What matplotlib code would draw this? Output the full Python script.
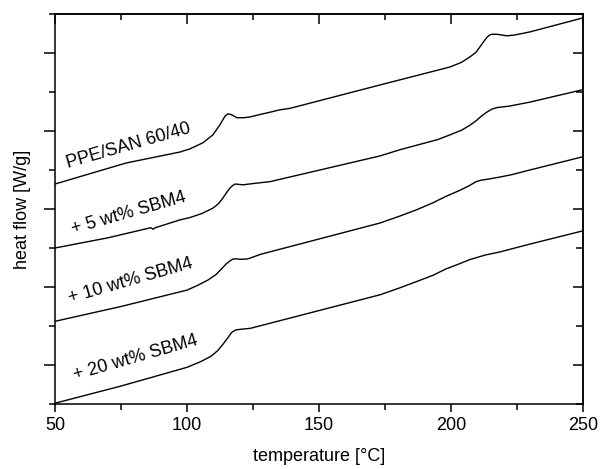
import numpy as np
import matplotlib.pyplot as plt
from matplotlib.ticker import MultipleLocator

plt.rcParams['font.family'] = ['Liberation Sans', 'DejaVu Sans']

# DSC-Kurven (Temperatur in °C, Wärmefluss in willkürlichen Einheiten)
t_ppe_san = [50, 77, 97.3, 101.1, 106.1, 109.8, 112.5, 114.4, 115.5, 116.8, 118.9, 121.5, 123.9, 127.5, 131.4, 135, 139,
             173.1, 199.6, 204, 207.2, 209.5, 211, 212.5, 213.6, 214.6, 215.5, 217.4, 219.3, 221.2, 224, 229.9, 250]
q_ppe_san = [2.82, 3.09, 3.23, 3.27, 3.35, 3.45, 3.58, 3.69, 3.72, 3.71, 3.67, 3.67, 3.68, 3.71, 3.74, 3.77, 3.79,
             4.09, 4.32, 4.38, 4.45, 4.51, 4.58, 4.65, 4.70, 4.73, 4.74, 4.74, 4.73, 4.72, 4.73, 4.77, 4.95]

t_sbm5 = [50, 70, 86.3, 87.1, 88.0, 97.3, 101.1, 105.5, 109.8, 112, 113.6, 115, 116.3, 117.3, 118.2, 121.2, 126, 131.4,
          173.1, 180.7, 195, 199.6, 204, 207, 209.5, 211.5, 213.5, 215.5, 217.4, 220, 222.3, 229.9, 250]
q_sbm5 = [2.00, 2.13, 2.26, 2.24, 2.26, 2.36, 2.39, 2.44, 2.51, 2.57, 2.64, 2.71, 2.77, 2.80, 2.82, 2.81, 2.83, 2.85,
          3.18, 3.26, 3.39, 3.45, 3.51, 3.57, 3.63, 3.69, 3.74, 3.78, 3.80, 3.81, 3.82, 3.87, 4.03]

t_sbm10 = [50, 75, 100, 104, 108, 111, 113, 115, 116.5, 117.6, 118.8, 120.5, 123, 128, 173.1, 180.7, 187, 193.2,
           198, 203.4, 207, 209.5, 211.5, 213.6, 218.6, 223, 229.9, 250]
q_sbm10 = [1.06, 1.25, 1.46, 1.52, 1.59, 1.66, 1.73, 1.80, 1.84, 1.86, 1.86, 1.855, 1.86, 1.92, 2.32, 2.41, 2.49, 2.58,
           2.66, 2.74, 2.80, 2.85, 2.87, 2.88, 2.91, 2.94, 3.00, 3.17]

t_sbm20 = [50, 75, 100, 105, 109, 111.5, 113.5, 115.5, 117, 118.5, 121, 124, 173.1, 180.7, 187, 193.2, 198,
           203.4, 207, 210, 213, 218.6, 229.9, 250]
q_sbm20 = [0.01, 0.23, 0.47, 0.54, 0.61, 0.68, 0.76, 0.85, 0.92, 0.95, 0.96, 0.97, 1.40, 1.49, 1.57, 1.65, 1.73,
           1.80, 1.85, 1.88, 1.91, 1.95, 2.05, 2.22]

labels = ['PPE/SAN 60/40', '+ 5 wt% SBM4', '+ 10 wt% SBM4', '+ 20 wt% SBM4']
label_x = [77.7, 78.0, 78.8, 80.7]
label_y = [3.31, 2.45, 1.58, 0.59]

fig = plt.figure(figsize=(6.01, 4.69), dpi=100)
ax = fig.add_axes([0.0915, 0.1386, 0.8785, 0.8316])

for t, q in [(t_ppe_san, q_ppe_san), (t_sbm5, q_sbm5), (t_sbm10, q_sbm10), (t_sbm20, q_sbm20)]:
    ax.plot(t, q, color='black', lw=1.0, solid_joinstyle='round')

for txt, x, y in zip(labels, label_x, label_y):
    ax.text(x, y, txt, rotation=16, ha='center', va='center', fontsize=13,
            rotation_mode='anchor')

ax.set_xlim(50, 250)
ax.set_ylim(0, 5)
ax.xaxis.set_major_locator(MultipleLocator(50))
ax.xaxis.set_minor_locator(MultipleLocator(25))
ax.set_yticks([0.5, 1.5, 2.5, 3.5, 4.5])
ax.yaxis.set_minor_locator(MultipleLocator(1))
ax.set_yticklabels([])
ax.tick_params(which='major', direction='out', length=6, width=1.1, labelsize=13)
ax.tick_params(axis='y', which='major', length=8)
ax.tick_params(which='minor', direction='out', length=4, width=1.1)
for s in ax.spines.values():
    s.set_linewidth(1.1)

# Ticks oben und rechts nach innen
top = ax.secondary_xaxis('top')
top.xaxis.set_major_locator(MultipleLocator(50))
top.xaxis.set_minor_locator(MultipleLocator(25))
top.tick_params(which='major', direction='in', length=7, width=1.1, labeltop=False)
top.tick_params(which='minor', direction='in', length=4, width=1.1)
right = ax.secondary_yaxis('right')
right.set_yticks([0.5, 1.5, 2.5, 3.5, 4.5])
right.yaxis.set_minor_locator(MultipleLocator(1))
right.tick_params(which='major', direction='in', length=7, width=1.1, labelright=False)
right.tick_params(which='minor', direction='in', length=5, width=1.1)
for sec in (top, right):
    for s in sec.spines.values():
        s.set_linewidth(1.1)

ax.set_xlabel('temperature [°C]', fontsize=13, labelpad=10)
ax.set_ylabel('heat flow [W/g]', fontsize=13)
ax.yaxis.set_label_coords(-0.045, 0.5)

fig.savefig('out.png', dpi=100)
